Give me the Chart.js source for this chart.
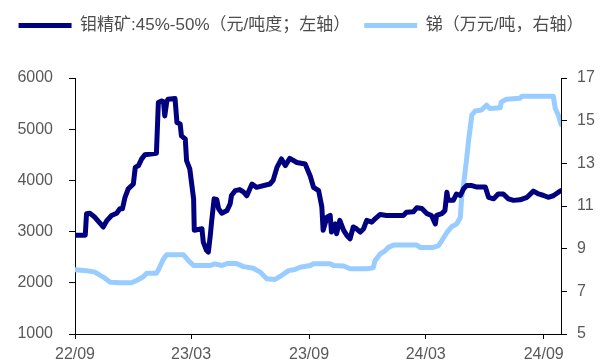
<!DOCTYPE html>
<html>
<head>
<meta charset="utf-8">
<script src="https://cdn.jsdelivr.net/npm/chart.js@4.4.1/dist/chart.umd.min.js"></script>
<style>
  html, body { margin: 0; padding: 0; background: #fff; }
  #wrap { width: 602px; height: 363px; }
</style>
</head>
<body>
<div id="wrap"><canvas id="chart" width="602" height="363"></canvas></div>
<script>
// x positions are days counted from 2022-09-01
var moDays = [0, 16, 18, 23, 31, 44, 50, 57, 65, 70, 74, 78, 83, 91, 94, 99, 104, 109, 127, 130,
    135, 138, 140, 143, 145, 156, 159, 164, 166, 172, 174, 179, 185, 186, 198, 200, 205, 208, 211, 213,
    217, 221, 224, 229, 237, 242, 244, 250, 257, 263, 268, 276, 283, 304, 309, 315, 322, 328, 335, 346,
    359, 367, 372, 380, 385, 387, 393, 398, 400, 406, 408, 413, 419, 424, 429, 434, 439, 445, 450, 455,
    463, 468, 476, 486, 512, 517, 528, 533, 541, 549, 556, 562, 564, 572, 577, 580, 582, 590, 595, 601,
    606, 611, 619, 627, 640, 645, 653, 660, 668, 676, 684, 694, 705, 715, 723, 731, 738, 746, 754, 758];
var moValues = [2930, 2930, 3350, 3360, 3280, 3090, 3220, 3315, 3360, 3445, 3445, 3670, 3835, 3930, 4255, 4290, 4420, 4500, 4530, 5520,
    5550, 5540, 5260, 5530, 5585, 5600, 5130, 5100, 4870, 4810, 4385, 4225, 3640, 3025, 3055, 2800, 2635, 2600, 2925, 3185,
    3640, 3630, 3445, 3360, 3410, 3540, 3705, 3800, 3820, 3770, 3700, 3930, 3865, 3930, 4000, 4255, 4420, 4290, 4430, 4350,
    4320, 4080, 3865, 3800, 3480, 3025, 3280, 3315, 2990, 3150, 2960, 3220, 3025, 2925, 2860, 3090, 3055, 2990, 3055, 3220,
    3185, 3250, 3335, 3315, 3315, 3380, 3390, 3465, 3450, 3350, 3315, 3150, 3315, 3350, 3410, 3770, 3610, 3610, 3735, 3705,
    3835, 3900, 3900, 3870, 3870, 3670, 3640, 3735, 3735, 3640, 3610, 3620, 3670, 3790, 3735, 3705, 3670, 3700, 3770, 3800];

var sbDays = [0, 18, 31, 44, 55, 70, 88, 96, 106, 112, 127, 131, 138, 143, 169, 177, 185, 211, 218, 229,
    237, 252, 263, 278, 289, 299, 312, 322, 333, 343, 351, 367, 372, 398, 403, 419, 429, 455, 465, 468,
    476, 484, 489, 497, 533, 538, 559, 567, 572, 580, 588, 595, 601, 603, 606, 611, 614, 619, 624, 634,
    642, 647, 663, 665, 673, 694, 697, 746, 749, 754, 758];
var sbValues = [8.01, 7.97, 7.90, 7.67, 7.43, 7.40, 7.40, 7.51, 7.67, 7.85, 7.85, 8.06, 8.52, 8.72, 8.72, 8.44, 8.21, 8.21, 8.29, 8.21,
    8.30, 8.30, 8.16, 8.08, 7.90, 7.59, 7.56, 7.74, 7.97, 8.02, 8.13, 8.21, 8.29, 8.29, 8.21, 8.19, 8.06, 8.06, 8.10, 8.44,
    8.75, 8.91, 9.06, 9.17, 9.17, 9.06, 9.06, 9.14, 9.37, 9.76, 10.04, 10.15, 10.46, 11.39, 12.01, 13.25, 14.10, 15.27, 15.45, 15.50,
    15.73, 15.57, 15.60, 15.88, 16.00, 16.05, 16.15, 16.15, 15.57, 15.25, 14.83];

var tickDays = [0, 181, 365, 547, 731];
var tickLabels = ['22/09', '23/03', '23/09', '24/03', '24/09'];

function toPoints(xs, ys) {
    return xs.map(function(x, i) { return { x: x, y: ys[i] }; });
}

var font = '"Liberation Sans", Arial, "Noto Sans CJK SC", sans-serif';
var tickColor = '#595959';

// leave a gap between the legend row and the plot
var legendGap = {
    id: 'legendGap',
    beforeInit: function(chart) {
        var fit = chart.legend.fit;
        chart.legend.fit = function() {
            fit.call(this);
            this.height += 34;
        };
    }
};

new Chart(document.getElementById('chart'), {
    type: 'line',
    data: {
        datasets: [
            {
                label: '钼精矿:45%-50%（元/吨度；左轴）',
                data: toPoints(moDays, moValues),
                borderColor: '#000080',
                backgroundColor: '#000080',
                borderWidth: 5,
                yAxisID: 'y'
            },
            {
                label: '锑（万元/吨，右轴）',
                data: toPoints(sbDays, sbValues),
                borderColor: '#99ccff',
                backgroundColor: '#99ccff',
                borderWidth: 5,
                yAxisID: 'y1'
            }
        ]
    },
    plugins: [legendGap],
    options: {
        responsive: false,
        animation: false,
        layout: { padding: { top: 3 } },
        elements: {
            point: { radius: 0 },
            line: { tension: 0, borderJoinStyle: 'round', borderCapStyle: 'round' }
        },
        plugins: {
            tooltip: { enabled: false },
            legend: {
                position: 'top',
                labels: {
                    boxWidth: 53,
                    boxHeight: 5,
                    padding: 14,
                    color: '#4d4d4d',
                    font: { family: font, size: 17 },
                    generateLabels: function(chart) {
                        var items = Chart.defaults.plugins.legend.labels.generateLabels(chart);
                        items.forEach(function(it) { it.lineWidth = 0; });
                        return items;
                    }
                }
            }
        },
        scales: {
            x: {
                type: 'linear',
                min: 0,
                max: 758,
                afterBuildTicks: function(scale) {
                    scale.ticks = tickDays.map(function(v) { return { value: v }; });
                },
                afterFit: function(scale) { scale.height = 29; },
                grid: { display: true, drawOnChartArea: false, tickLength: 5, color: '#000' },
                border: { color: '#000', width: 1 },
                ticks: {
                    autoSkip: false,
                    maxRotation: 0,
                    padding: 6,
                    color: tickColor,
                    font: { family: font, size: 16 },
                    callback: function(value) {
                        var i = tickDays.indexOf(value);
                        return i >= 0 ? tickLabels[i] : '';
                    }
                }
            },
            y: {
                position: 'left',
                min: 1000,
                max: 6000,
                afterFit: function(scale) { scale.width = 75; },
                grid: { display: true, drawOnChartArea: false, tickLength: 6, color: '#000' },
                border: { color: '#000', width: 1 },
                ticks: {
                    stepSize: 1000,
                    padding: 16,
                    color: tickColor,
                    font: { family: font, size: 16 },
                    callback: function(value) { return String(value); }
                }
            },
            y1: {
                position: 'right',
                min: 5,
                max: 17,
                afterFit: function(scale) { scale.width = 41; },
                grid: { display: true, drawOnChartArea: false, tickLength: 6, color: '#000' },
                border: { color: '#000', width: 1 },
                ticks: {
                    stepSize: 2,
                    padding: 10,
                    color: tickColor,
                    font: { family: font, size: 16 },
                    callback: function(value) { return String(value); }
                }
            }
        }
    }
});
</script>
</body>
</html>
